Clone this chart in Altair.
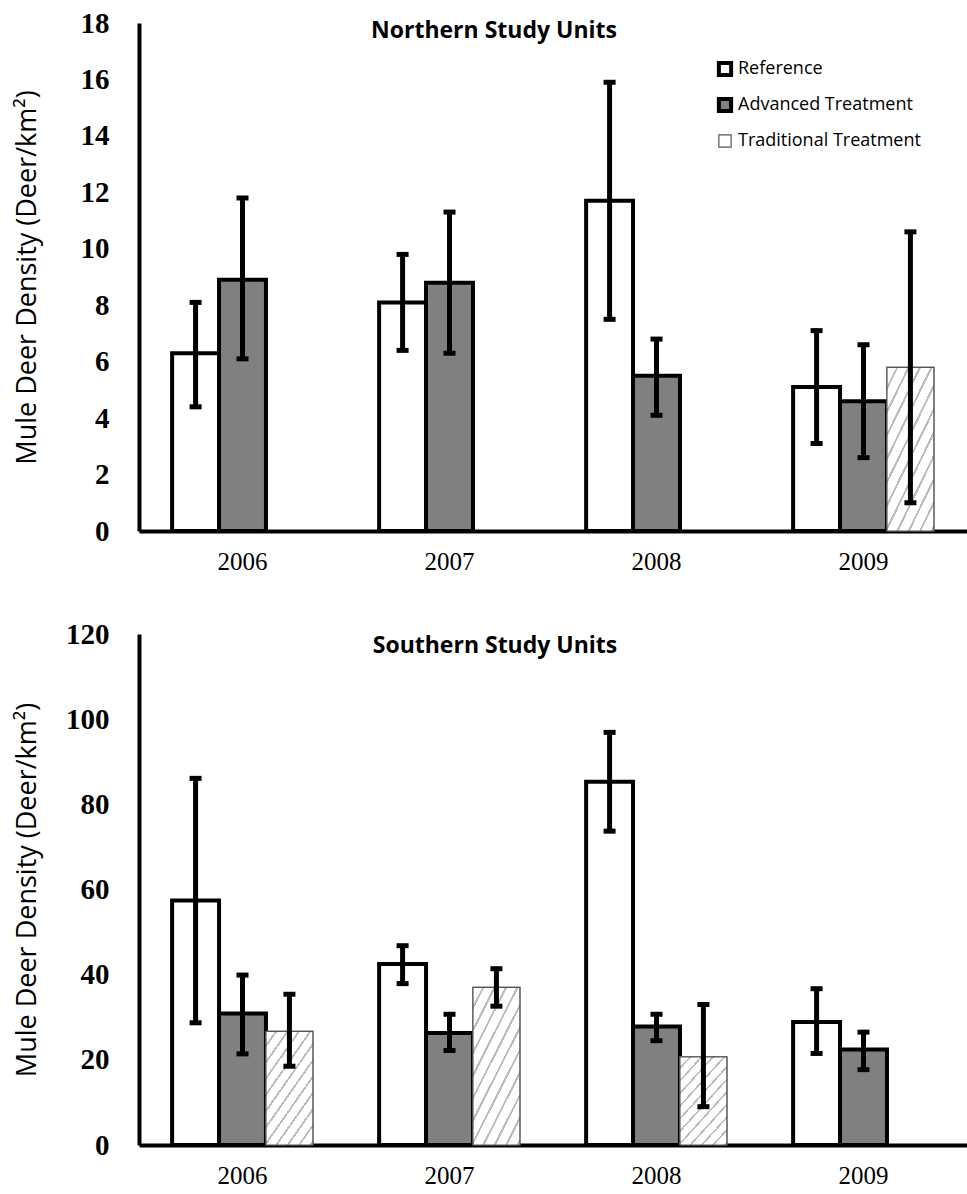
import altair as alt
import pandas as pd

years = ["2006", "2007", "2008", "2009"]
series = ["Reference", "Advanced Treatment", "Traditional Treatment"]

# Northern Study Units
n_year = ["2006", "2006", "2007", "2007", "2008", "2008", "2009", "2009", "2009"]
n_series = ["Reference", "Advanced Treatment", "Reference", "Advanced Treatment",
            "Reference", "Advanced Treatment", "Reference", "Advanced Treatment",
            "Traditional Treatment"]
n_mean = [6.3, 8.9, 8.1, 8.8, 11.7, 5.5, 5.1, 4.6, 5.8]
n_low = [4.4, 6.1, 6.4, 6.3, 7.5, 4.1, 3.1, 2.6, 1.0]
n_high = [8.1, 11.8, 9.8, 11.3, 15.9, 6.8, 7.1, 6.6, 10.6]

# Southern Study Units
s_year = ["2006", "2006", "2006", "2007", "2007", "2007", "2008", "2008", "2008", "2009", "2009"]
s_series = ["Reference", "Advanced Treatment", "Traditional Treatment",
            "Reference", "Advanced Treatment", "Traditional Treatment",
            "Reference", "Advanced Treatment", "Traditional Treatment",
            "Reference", "Advanced Treatment"]
s_mean = [57.4, 30.9, 26.7, 42.5, 26.3, 37.0, 85.3, 27.8, 20.7, 28.9, 22.4]
s_low = [28.7, 21.4, 18.5, 37.9, 22.2, 32.6, 73.7, 24.5, 9.0, 21.5, 17.7]
s_high = [86.1, 39.9, 35.4, 46.8, 30.7, 41.4, 96.9, 30.7, 33.0, 36.7, 26.5]

north = pd.DataFrame({"year": n_year, "series": n_series, "mean": n_mean, "low": n_low, "high": n_high})
south = pd.DataFrame({"year": s_year, "series": s_series, "mean": s_mean, "low": s_low, "high": s_high})

fill_range = ["#ffffff", "#808080", "#ffffff"]
stroke_range = ["#000000", "#000000", "#555555"]
sw_range = [4, 4, 1.2]
Y_TITLE = "Mule Deer Density (Deer/km²)"

# light diagonal hatch used for the Traditional Treatment bars
hatch_stops = []
n_cycles = 16
for i in range(n_cycles):
    a = i / n_cycles
    b = (i + 0.8) / n_cycles
    c = (i + 1) / n_cycles
    hatch_stops += [
        {"offset": a, "color": "#ffffff"},
        {"offset": b, "color": "#ffffff"},
        {"offset": b, "color": "#bdbdbd"},
        {"offset": c, "color": "#bdbdbd"},
    ]
hatch = {"gradient": "linear", "x1": 0, "y1": 0, "x2": 1, "y2": 1.7, "stops": hatch_stops}


def panel(df, ymax, ystep, width, height, title, dx, dy, show_legend):
    if show_legend:
        leg = alt.Legend(orient="none", legendX=577, legendY=37, title=None,
                         labelFont="Open Sans", labelFontSize=18, labelColor="black",
                         labelLimit=400, symbolType="square", symbolSize=150,
                         rowPadding=6, labelOffset=4, gridAlign="all")
    else:
        leg = None
    x = alt.X("year:N", sort=years,
              scale=alt.Scale(domain=years, paddingInner=0.32, paddingOuter=0.16),
              axis=alt.Axis(title=None, labelAngle=0, labelFont="Liberation Serif",
                            labelFontSize=25, labelColor="black", labelPadding=18,
                            ticks=False, tickSize=0, domainColor="black", domainWidth=4,
                            grid=False))
    xo = alt.XOffset("series:N", sort=series,
                     scale=alt.Scale(domain=series, paddingInner=0, paddingOuter=0))
    y = alt.Y("mean:Q", scale=alt.Scale(domain=[0, ymax], nice=False),
              axis=alt.Axis(title=Y_TITLE, values=list(range(0, ymax + 1, ystep)),
                            labelFont="Liberation Serif", labelFontWeight="bold",
                            labelFontSize=29, labelColor="black", labelPadding=30,
                            ticks=False, tickSize=0, domainColor="black", domainWidth=4,
                            grid=False, titleFont="Open Sans", titleFontSize=27,
                            titleFontWeight="normal", titleColor="black",
                            titleX=-98, titleY=height / 2))
    fill = alt.Fill("series:N", sort=series,
                    scale=alt.Scale(domain=series, range=fill_range), legend=leg)
    stroke = alt.Stroke("series:N", sort=series,
                        scale=alt.Scale(domain=series, range=stroke_range), legend=leg)
    sw = alt.StrokeWidth("series:N", sort=series,
                         scale=alt.Scale(type="ordinal", domain=series, range=sw_range), legend=leg)
    base = alt.Chart(df)
    bars = base.mark_bar().encode(x=x, xOffset=xo, y=y, fill=fill, stroke=stroke, strokeWidth=sw)
    hatched = base.transform_filter(alt.datum.series == "Traditional Treatment").mark_bar(
        fill=hatch, stroke="#555555", strokeWidth=1.2).encode(x=x, xOffset=xo, y=alt.Y("mean:Q"))
    rules = base.mark_rule(color="black", strokeWidth=5).encode(
        x=x, xOffset=xo, y=alt.Y("low:Q"), y2="high:Q")
    cap_lo = base.mark_tick(orient="horizontal", size=12, thickness=5, color="black", opacity=1).encode(
        x=x, xOffset=xo, y=alt.Y("low:Q"))
    cap_hi = base.mark_tick(orient="horizontal", size=12, thickness=5, color="black", opacity=1).encode(
        x=x, xOffset=xo, y=alt.Y("high:Q"))
    return alt.layer(bars, hatched, rules, cap_lo, cap_hi).properties(
        width=width, height=height,
        title=alt.TitleParams(title, font="Open Sans", fontSize=23, fontWeight="bold",
                              color="black", anchor="middle", dx=dx, dy=dy))


top = panel(north, 18, 2, 828, 508, "Northern Study Units", -59, 38, True)
bottom = panel(south, 120, 20, 828, 511, "Southern Study Units", -58, 42, False)

chart = alt.concat(top, bottom, columns=1, spacing=46).resolve_scale(
    fill="independent", stroke="independent", strokeWidth="independent"
).resolve_legend(
    fill="independent", stroke="independent", strokeWidth="independent"
).properties(
    padding={"left": 12, "top": 9, "right": 0, "bottom": 0},
    background="white",
).configure_view(stroke=None)

chart.save("out.html", embed_options={"renderer": "svg", "actions": False})
